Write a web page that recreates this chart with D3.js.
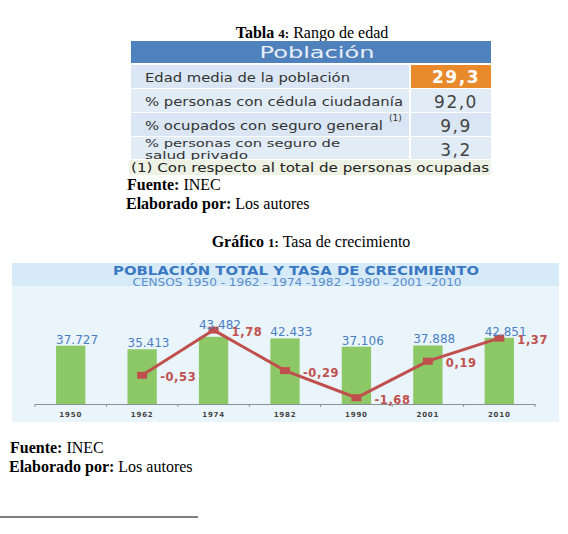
<!DOCTYPE html>
<html>
<head>
<meta charset="utf-8">
<script src="https://cdn.jsdelivr.net/npm/d3@7"></script>
<style>
  body { margin: 0; background: #fff; }
  svg text { font-family: "DejaVu Sans", sans-serif; }
  svg text.doc { font-family: "Liberation Serif", serif; font-size: 16px; fill: #000; }
</style>
</head>
<body>
<div id="page"></div>
<script>
// table data
const tableRows = [
  'Edad media de la población',
  '% personas con cédula ciudadanía',
  '% ocupados con seguro general',
  '% personas con seguro de|salud privado',
];
const tableValues = ['29,3', '92,0', '9,9', '3,2'];
const tableNote = '(1) Con respecto al total de personas ocupadas';

// chart data
const years = ['1950', '1962', '1974', '1982', '1990', '2001', '2010'];
const population = [37727, 35413, 43482, 42433, 37106, 37888, 42851];
const popLabels = ['37.727', '35.413', '43.482', '42.433', '37.106', '37.888', '42.851'];
const rates = [null, -0.53, 1.78, -0.29, -1.68, 0.19, 1.37];
const rateLabels = ['', '-0,53', '1,78', '-0,29', '-1,68', '0,19', '1,37'];

const svg = d3.select('#page').append('svg')
  .attr('width', 568)
  .attr('height', 534);

// ---- Tabla 4 ----
const t1 = svg.append('text').attr('class', 'doc').attr('x', 312).attr('y', 38).attr('text-anchor', 'middle');
t1.append('tspan').attr('font-weight', 'bold').text('Tabla ');
t1.append('tspan').attr('font-weight', 'bold').attr('font-size', 13).text('4:');
t1.append('tspan').text(' Rango de edad');

const tx0 = 131, tx1 = 491, valX = 410;
svg.append('rect').attr('x', tx0).attr('y', 41).attr('width', tx1 - tx0).attr('height', 22).attr('fill', '#4f81bd');
svg.append('text').attr('x', 317).attr('y', 57.5).attr('text-anchor', 'middle')
  .attr('fill', '#e8eef8').attr('font-size', 16).attr('textLength', 115).attr('lengthAdjust', 'spacingAndGlyphs')
  .text('Población');

const rowY = [65, 89, 113, 137];
const rowH = [23, 23, 23, 22];
// widths of the label lines as they appear in the picture
const labelW = [[205], [258], [238], [195, 103]];
tableRows.forEach((label, i) => {
  svg.append('rect').attr('x', tx0).attr('y', rowY[i]).attr('width', valX - tx0 - 1).attr('height', rowH[i])
    .attr('fill', i % 2 ? '#e2ecf7' : '#dae6f3');
  svg.append('rect').attr('x', valX + 1).attr('y', rowY[i]).attr('width', tx1 - valX - 1).attr('height', rowH[i])
    .attr('fill', i === 0 ? '#e88a2c' : (i % 2 ? '#e2ecf7' : '#dae6f3'));

  const parts = label.split('|');
  parts.forEach((p, j) => {
    const two = parts.length > 1;
    svg.append('text').attr('x', 145).attr('y', two ? rowY[i] + 9.5 + j * 12 : rowY[i] + 17)
      .attr('fill', '#333')
      .attr('font-size', two ? 11 : 12.5)
      .attr('textLength', labelW[i][j]).attr('lengthAdjust', 'spacingAndGlyphs')
      .text(p);
  });
  if (i === 2) {
    svg.append('text').attr('x', 389).attr('y', rowY[i] + 8).attr('fill', '#333')
      .attr('font-size', 9).text('(1)');
  }
  svg.append('text').attr('x', 456).attr('y', rowY[i] + (i === 0 ? 18 : 19)).attr('text-anchor', 'middle')
    .attr('fill', i === 0 ? '#fff' : '#444').attr('font-size', 17)
    .attr('font-weight', i === 0 ? 'bold' : 'normal').attr('letter-spacing', 1.5).text(tableValues[i]);
});
svg.append('rect').attr('x', tx0 - 2).attr('y', 160).attr('width', tx1 - tx0 + 2).attr('height', 15).attr('fill', '#edf2e4');
svg.append('text').attr('x', 310).attr('y', 172).attr('text-anchor', 'middle').attr('fill', '#222')
  .attr('font-size', 12.5).attr('textLength', 358).attr('lengthAdjust', 'spacingAndGlyphs').text(tableNote);

function fuente(x, y) {
  const a = svg.append('text').attr('class', 'doc').attr('x', x).attr('y', y);
  a.append('tspan').attr('font-weight', 'bold').text('Fuente:');
  a.append('tspan').text(' INEC');
  const b = svg.append('text').attr('class', 'doc').attr('x', x - 1).attr('y', y + 19);
  b.append('tspan').attr('font-weight', 'bold').text('Elaborado por:');
  b.append('tspan').text(' Los autores');
}
fuente(127, 190);

const t2 = svg.append('text').attr('class', 'doc').attr('x', 311).attr('y', 247).attr('text-anchor', 'middle');
t2.append('tspan').attr('font-weight', 'bold').text('Gráfico ');
t2.append('tspan').attr('font-weight', 'bold').attr('font-size', 13).text('1:');
t2.append('tspan').text(' Tasa de crecimiento');

// ---- Gráfico 1 ----
svg.append('rect').attr('x', 12).attr('y', 263).attr('width', 547).attr('height', 159).attr('fill', '#eaf4fb');
svg.append('rect').attr('x', 12).attr('y', 263).attr('width', 547).attr('height', 23).attr('fill', '#d6eaf7');
svg.append('text').attr('x', 296).attr('y', 275).attr('text-anchor', 'middle').attr('fill', '#3a78c2')
  .attr('font-size', 12).attr('font-weight', 'bold').attr('textLength', 366).attr('lengthAdjust', 'spacingAndGlyphs')
  .text('POBLACIÓN TOTAL Y TASA DE CRECIMIENTO');
svg.append('text').attr('x', 297).attr('y', 285.5).attr('text-anchor', 'middle').attr('fill', '#5b8dcc')
  .attr('font-size', 10).attr('textLength', 329).attr('lengthAdjust', 'spacingAndGlyphs')
  .text('CENSOS 1950 - 1962 - 1974 -1982 -1990 - 2001 -2010');

const x = d3.scaleBand().domain(years).range([35, 535]).paddingInner(0.59).paddingOuter(0.295);
const y = d3.scaleLinear().domain([0, 50000]).range([404, 326.75]);
const y2 = d3.scaleLinear().domain([-2, 2]).range([404, 325.8]);

svg.selectAll('rect.bar').data(years).join('rect')
  .attr('class', 'bar')
  .attr('x', d => x(d))
  .attr('y', (d, i) => y(population[i]))
  .attr('width', x.bandwidth())
  .attr('height', (d, i) => y(0) - y(population[i]))
  .attr('fill', '#8cc866');

// axis
const axis = svg.append('g').attr('transform', 'translate(0,404)')
  .call(d3.axisBottom(x).tickSize(0).tickPadding(8));
axis.select('.domain').attr('stroke', '#8a9199').attr('stroke-width', 1.2);
axis.selectAll('.tick text').attr('font-size', 7).attr('font-weight', 'bold')
  .attr('fill', '#444').attr('letter-spacing', 0.8)
  .attr('font-family', 'DejaVu Sans, sans-serif');
const bounds = d3.range(years.length + 1).map(i => x.range()[0] + i * x.step());
axis.selectAll('line.sep').data(bounds).join('line')
  .attr('class', 'sep')
  .attr('x1', d => d).attr('x2', d => d)
  .attr('y1', 0).attr('y2', 3)
  .attr('stroke', '#8a9199');

// growth rate line
const rateData = years.map((d, i) => ({ year: d, rate: rates[i], label: rateLabels[i] }))
  .filter(d => d.rate !== null);
const cx = d => x(d.year) + x.bandwidth() / 2;

svg.append('path')
  .datum(rateData)
  .attr('fill', 'none')
  .attr('stroke', '#c0504d')
  .attr('stroke-width', 3)
  .attr('d', d3.line().x(cx).y(d => y2(d.rate)));

svg.selectAll('rect.mark').data(rateData).join('rect')
  .attr('class', 'mark')
  .attr('x', d => cx(d) - 5)
  .attr('y', d => y2(d.rate) - 3.5)
  .attr('width', 10)
  .attr('height', 7)
  .attr('fill', '#c0504d');

// population labels, lifted clear of a marker sitting on the bar top
svg.selectAll('text.pop').data(years).join('text')
  .attr('class', 'pop')
  .attr('x', d => x(d))
  .attr('y', (d, i) => {
    const top = y(population[i]) - 2;
    const r = rates[i];
    return (r !== null && Math.abs(y2(r) - y(population[i])) < 8) ? Math.min(top, y2(r) - 1) : top;
  })
  .attr('fill', '#4a7fc4')
  .attr('font-size', 12)
  .attr('textLength', 42)
  .attr('lengthAdjust', 'spacingAndGlyphs')
  .text((d, i) => popLabels[i]);

svg.selectAll('text.rate').data(rateData).join('text')
  .attr('class', 'rate')
  .attr('x', d => cx(d) + 18)
  .attr('y', d => y2(d.rate) + 6)
  .attr('fill', '#c0504d')
  .attr('font-size', 11.5)
  .attr('font-weight', 'bold')
  .attr('letter-spacing', 0.6)
  .text(d => d.label);

fuente(10, 453);

svg.append('line').attr('x1', 0).attr('x2', 198).attr('y1', 517).attr('y2', 517)
  .attr('stroke', '#000').attr('stroke-width', 1);
</script>
</body>
</html>
